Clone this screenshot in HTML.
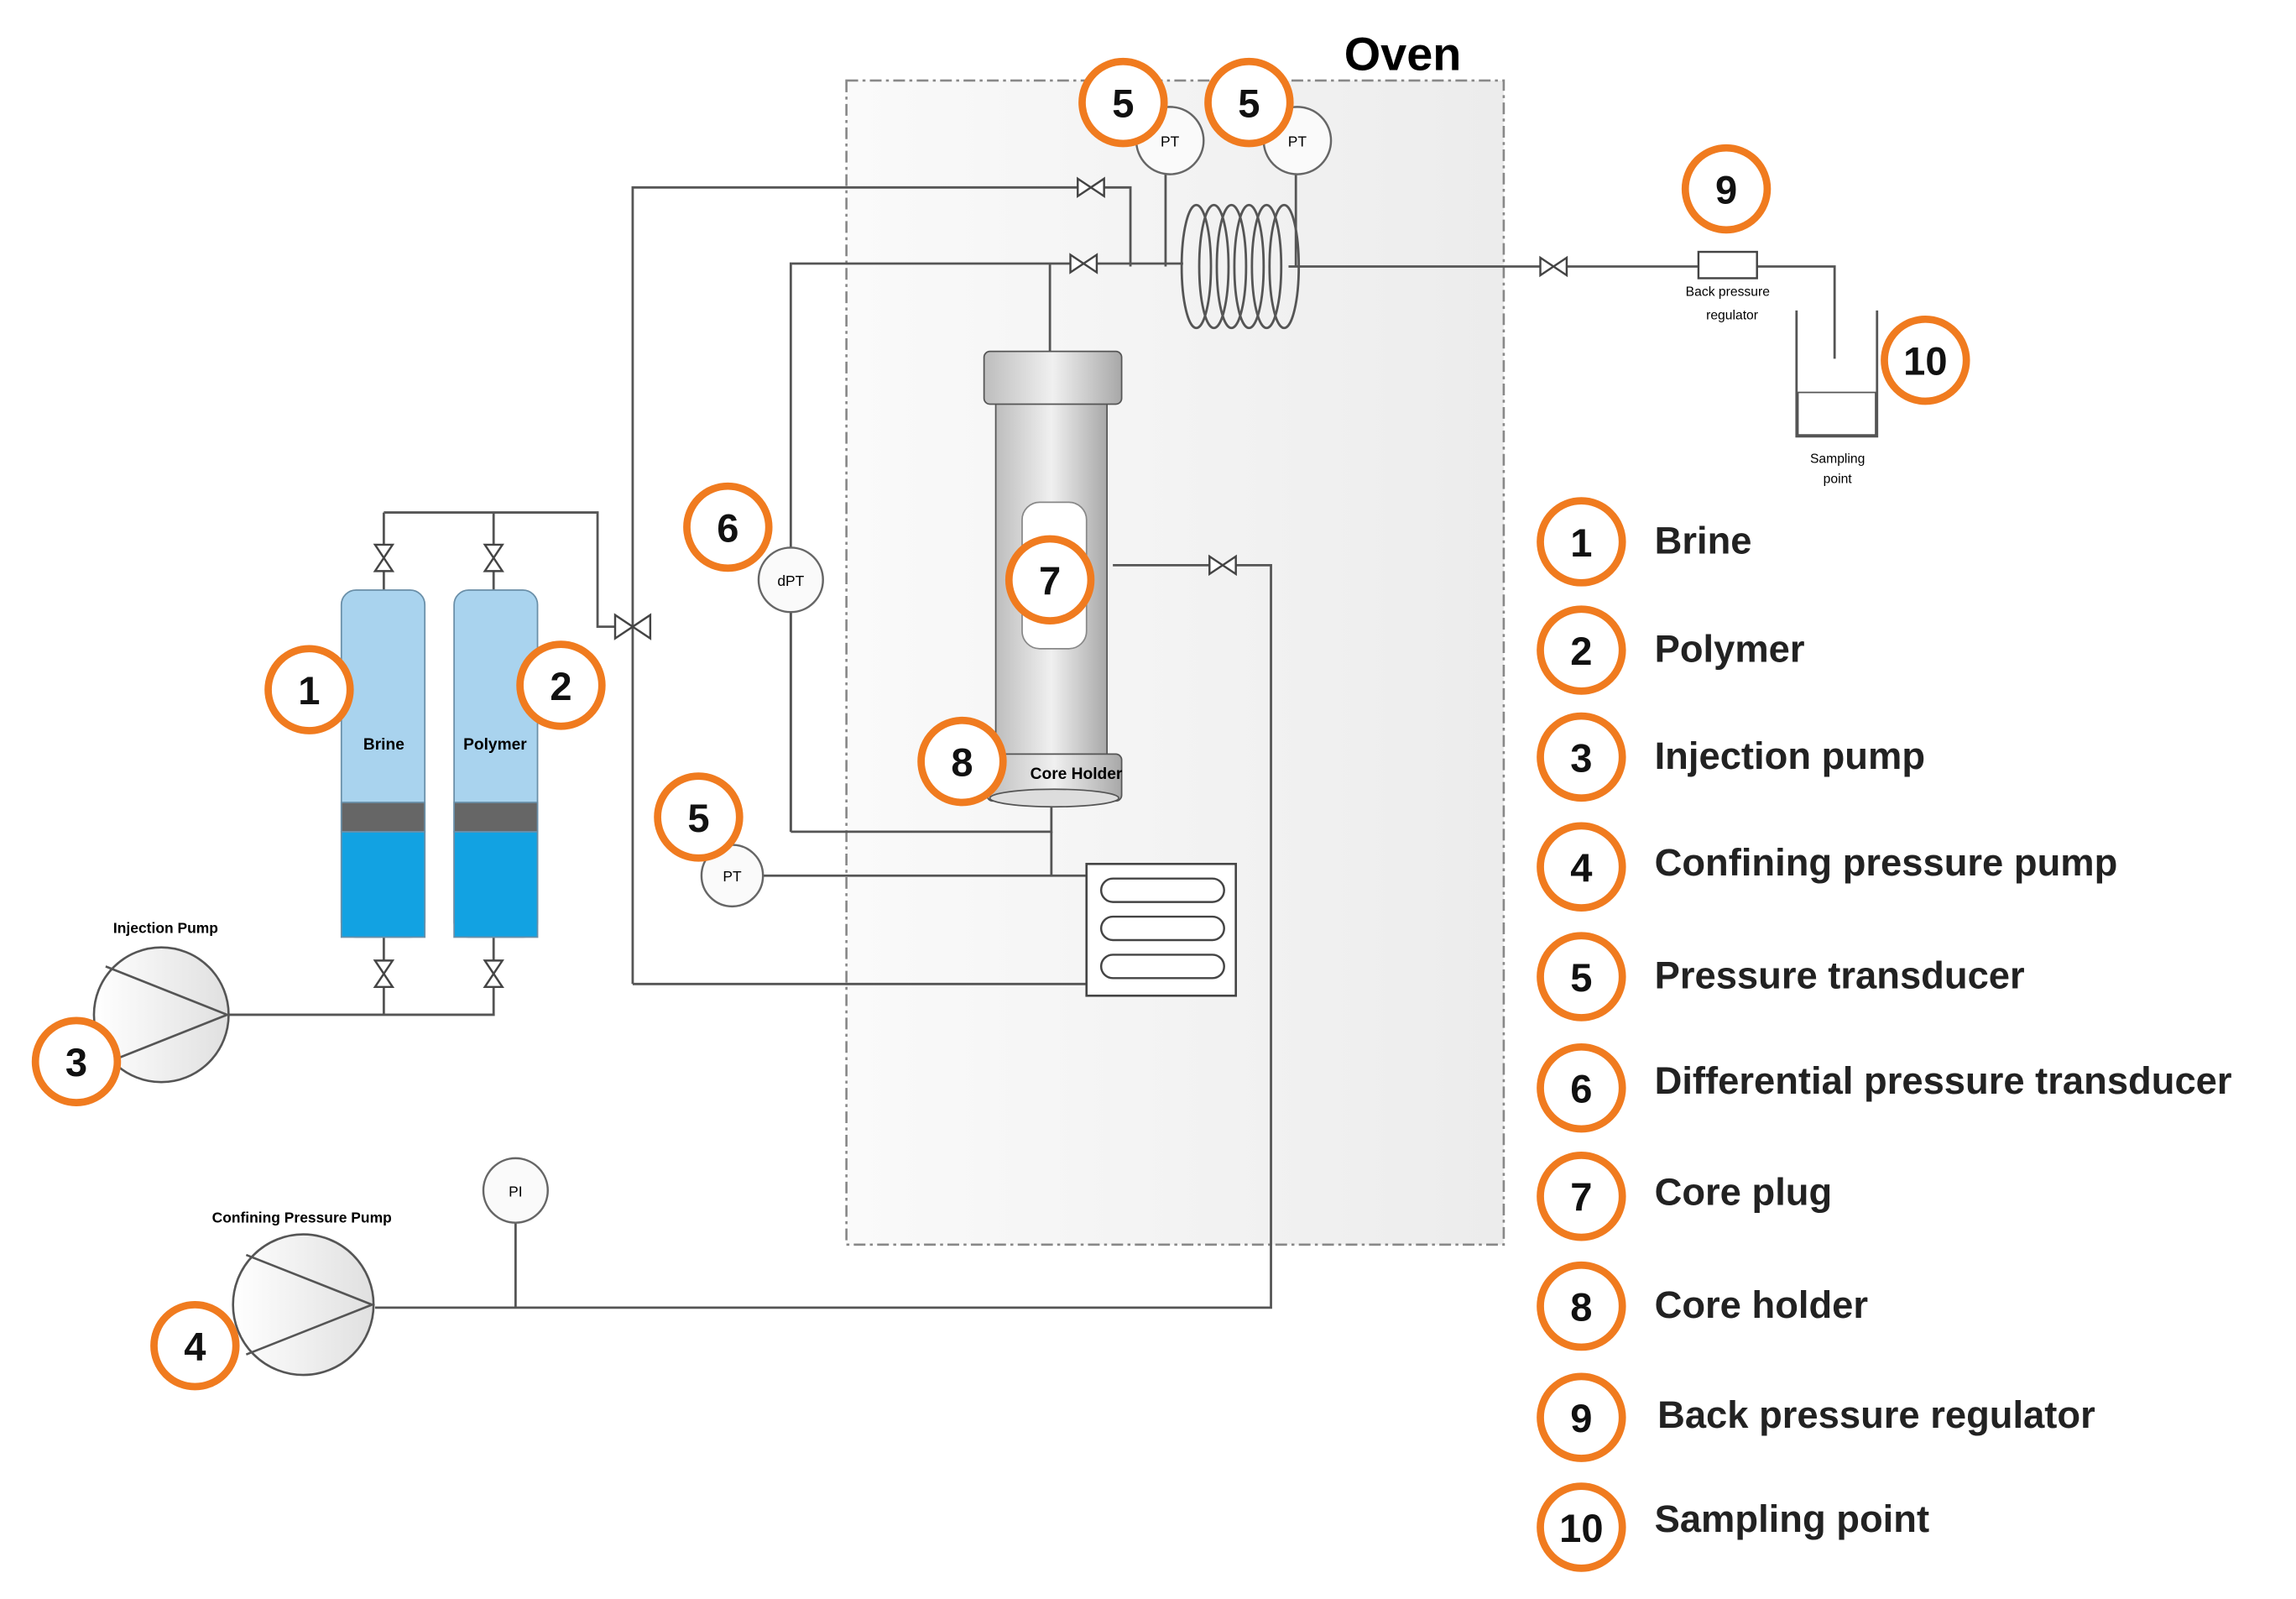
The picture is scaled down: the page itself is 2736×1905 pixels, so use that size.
<!DOCTYPE html>
<html><head><meta charset="utf-8"><style>
html,body{margin:0;padding:0;background:#fff}
svg{display:block}
text{font-family:"Liberation Sans",sans-serif}
</style></head><body>
<svg width="2736" height="1905" viewBox="0 0 1568 1092" xmlns="http://www.w3.org/2000/svg">
<defs>
<linearGradient id="ov" x1="0" x2="1"><stop offset="0" stop-color="#fafafa"/><stop offset="1" stop-color="#ececec"/></linearGradient>
<linearGradient id="cyl" x1="0" x2="1"><stop offset="0" stop-color="#bdbdbd"/><stop offset="0.5" stop-color="#f0f0f0"/><stop offset="1" stop-color="#a8a8a8"/></linearGradient>
<linearGradient id="pump" x1="0" x2="1"><stop offset="0" stop-color="#fff"/><stop offset="1" stop-color="#e0e0e0"/></linearGradient>
</defs>
<rect x="578" y="55" width="449" height="795" fill="url(#ov)" stroke="#888" stroke-width="1.5" stroke-dasharray="8,3,2,3"/>
<text x="918" y="48" font-size="32" font-weight="bold">Oven</text>
<g fill="none" stroke="#555" stroke-width="1.6">
<!-- top lines -->
<path d="M432 672 V128 H745 H772 V182"/>
<path d="M540 568 V180 H740 H808"/>
<path d="M717 180 V240"/>
<path d="M880 182 H1160 M1200 182 H1253 V245"/>
<path d="M540 568 H718 V548"/>
<path d="M718 568 V598 H742 M520 598 H742"/>
<path d="M432 672 H742"/>
<path d="M760 386 H868 V893 H256"/>
<path d="M352 893 V835"/>
<path d="M262 350 H408 V428 H432"/>
<path d="M262 350 V403 M337 350 V403"/>
<path d="M156 693 H337 V640 M262 640 V693"/>
<path d="M796 96 V182 M885 96 V182"/>
<path d="M540 410 V568"/>
</g>
<!-- coil -->
<g fill="none" stroke="#555" stroke-width="1.6">
<ellipse cx="817" cy="182" rx="10" ry="42"/><ellipse cx="829" cy="182" rx="10" ry="42"/><ellipse cx="841" cy="182" rx="10" ry="42"/><ellipse cx="853" cy="182" rx="10" ry="42"/><ellipse cx="865" cy="182" rx="10" ry="42"/><ellipse cx="877" cy="182" rx="10" ry="42"/>
</g>
<!-- valves -->
<g fill="#fff" stroke="#444" stroke-width="1.4">
<path d="M736 122 L754 134 V122 L736 134 Z"/>
<path d="M731 174 L749 186 V174 L731 186 Z"/>
<path d="M1052 176 L1070 188 V176 L1052 188 Z"/>
<path d="M826 380 L844 392 V380 L826 392 Z"/>
<path d="M256 372 L268 390 H256 L268 372 Z"/>
<path d="M331 372 L343 390 H331 L343 372 Z"/>
<path d="M256 656 L268 674 H256 L268 656 Z"/>
<path d="M331 656 L343 674 H331 L343 656 Z"/>
<path d="M420 420 L444 436 V420 L420 436 Z"/>
<rect x="1160" y="172" width="40" height="18"/>
</g>
<!-- sampling -->
<path d="M1227 212 V298 H1282 V212" fill="none" stroke="#555" stroke-width="1.6"/>
<rect x="1228" y="268" width="53" height="29" fill="#fff" stroke="#555"/>
<text x="1180" y="202" font-size="9" text-anchor="middle">Back pressure</text>
<text x="1183" y="218" font-size="9" text-anchor="middle">regulator</text>
<text x="1255" y="316" font-size="9" text-anchor="middle">Sampling</text>
<text x="1255" y="330" font-size="9" text-anchor="middle">point</text>
<!-- core holder -->
<rect x="680" y="275" width="76" height="265" fill="url(#cyl)" stroke="#555"/>
<rect x="672" y="240" width="94" height="36" rx="4" fill="url(#cyl)" stroke="#555"/>
<rect x="674" y="515" width="92" height="32" rx="4" fill="url(#cyl)" stroke="#555"/>
<ellipse cx="720" cy="545" rx="44" ry="6" fill="#ddd" stroke="#555"/>
<rect x="698" y="343" width="44" height="100" rx="12" fill="#fff" stroke="#888"/>
<text x="735" y="532" font-size="11" font-weight="bold" text-anchor="middle">Core Holder</text>
<!-- heat exchanger -->
<rect x="742" y="590" width="102" height="90" fill="#fff" stroke="#444" stroke-width="1.5"/>
<g fill="none" stroke="#444" stroke-width="1.4"><rect x="752" y="600" width="84" height="16" rx="8"/><rect x="752" y="626" width="84" height="16" rx="8"/><rect x="752" y="652" width="84" height="16" rx="8"/></g>
<!-- gauges -->
<g fill="#fafafa" stroke="#666" stroke-width="1.4">
<circle cx="799" cy="96" r="23"/><circle cx="886" cy="96" r="23"/><circle cx="540" cy="396" r="22"/><circle cx="500" cy="598" r="21"/><circle cx="352" cy="813" r="22"/>
</g>
<g font-size="10" text-anchor="middle"><text x="799" y="100">PT</text><text x="886" y="100">PT</text><text x="540" y="400">dPT</text><text x="500" y="602">PT</text><text x="352" y="817">PI</text></g>
<!-- cylinders -->
<g stroke="#6a8fa8" stroke-width="1">
<rect x="233" y="403" width="57" height="237" rx="10" fill="#a9d3ee"/>
<rect x="310" y="403" width="57" height="237" rx="10" fill="#a9d3ee"/>
<rect x="233" y="568" width="57" height="72" fill="#12a2e2"/>
<rect x="310" y="568" width="57" height="72" fill="#12a2e2"/>
<rect x="233" y="548" width="57" height="20" fill="#666"/>
<rect x="310" y="548" width="57" height="20" fill="#666"/>
</g>
<text x="262" y="512" font-size="11" font-weight="bold" text-anchor="middle">Brine</text>
<text x="338" y="512" font-size="11" font-weight="bold" text-anchor="middle">Polymer</text>
<!-- pumps -->
<circle cx="110" cy="693" r="46" fill="url(#pump)" stroke="#555" stroke-width="1.5"/>
<path d="M72 660 L155 693 L72 726" fill="none" stroke="#555" stroke-width="1.5"/>
<circle cx="207" cy="891" r="48" fill="url(#pump)" stroke="#555" stroke-width="1.5"/>
<path d="M168 857 L254 891 L168 925" fill="none" stroke="#555" stroke-width="1.5"/>
<text x="113" y="637" font-size="10" font-weight="bold" text-anchor="middle">Injection Pump</text>
<text x="206" y="835" font-size="10" font-weight="bold" text-anchor="middle">Confining Pressure Pump</text>
<!-- orange markers -->
<g fill="#fff" stroke="#f07b1f" stroke-width="5">
<circle cx="767" cy="70" r="28"/><circle cx="853" cy="70" r="28"/><circle cx="1179" cy="129" r="28"/><circle cx="1315" cy="246" r="28"/>
<circle cx="497" cy="360" r="28"/><circle cx="717" cy="396" r="28"/><circle cx="657" cy="520" r="28"/><circle cx="477" cy="558" r="28"/>
<circle cx="211" cy="471" r="28"/><circle cx="383" cy="468" r="28"/><circle cx="52" cy="725" r="28"/><circle cx="133" cy="919" r="28"/>
<circle cx="1080" cy="370" r="28"/><circle cx="1080" cy="444" r="28"/><circle cx="1080" cy="517" r="28"/><circle cx="1080" cy="592" r="28"/><circle cx="1080" cy="667" r="28"/><circle cx="1080" cy="743" r="28"/><circle cx="1080" cy="817" r="28"/><circle cx="1080" cy="892" r="28"/><circle cx="1080" cy="968" r="28"/><circle cx="1080" cy="1043" r="28"/>
</g>
<g font-size="27" font-weight="bold" text-anchor="middle" fill="#111">
<text x="767" y="80">5</text><text x="853" y="80">5</text><text x="1179" y="139">9</text><text x="1315" y="256">10</text>
<text x="497" y="370">6</text><text x="717" y="406">7</text><text x="657" y="530">8</text><text x="477" y="568">5</text>
<text x="211" y="481">1</text><text x="383" y="478">2</text><text x="52" y="735">3</text><text x="133" y="929">4</text>
<text x="1080" y="380">1</text><text x="1080" y="454">2</text><text x="1080" y="527">3</text><text x="1080" y="602">4</text><text x="1080" y="677">5</text><text x="1080" y="753">6</text><text x="1080" y="827">7</text><text x="1080" y="902">8</text><text x="1080" y="978">9</text><text x="1080" y="1053">10</text>
</g>
<g font-size="26" font-weight="bold" fill="#222">
<text x="1130" y="378">Brine</text><text x="1130" y="452">Polymer</text><text x="1130" y="525">Injection pump</text><text x="1130" y="598">Confining pressure pump</text><text x="1130" y="675">Pressure transducer</text><text x="1130" y="747">Differential pressure transducer</text><text x="1130" y="823">Core plug</text><text x="1130" y="900">Core holder</text><text x="1132" y="975">Back pressure regulator</text><text x="1130" y="1046">Sampling point</text>
</g>
</svg>
</body></html>
